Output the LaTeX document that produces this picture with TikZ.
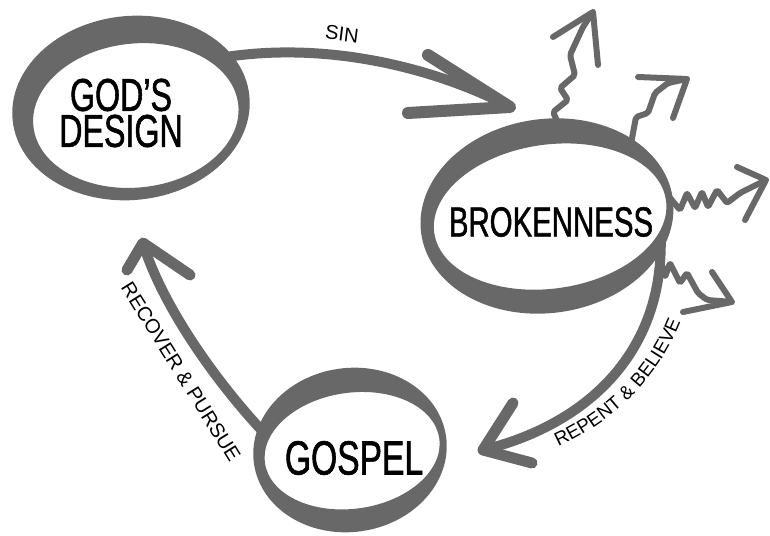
\documentclass[tikz,border=0pt]{standalone}
\usepackage{fontspec}
\setmainfont{Liberation Sans}
\newfontfamily\titlefont[FakeStretch=0.7, FakeBold=1.2]{Liberation Sans}
\usepackage{tikz}
\usetikzlibrary{%
  shapes.geometric,
  decorations.text,
}
\definecolor{ink}{HTML}{686868}

\begin{document}
\begin{tikzpicture}[x=1pt, y=1pt,
  ring/.style = {ellipse, inner sep = 0pt},
  stroke/.style = {draw = ink, line width = 10pt,
    line cap = round, line join = round},
  zig/.style = {draw = ink, line width = 6pt, line cap = round,
    line join = round, rounded corners = 2pt},
  title/.style = {font = \titlefont\fontsize{46}{36}\selectfont,
    align = center},
  tag/.style = {font = \fontsize{20}{20}\selectfont},
]
  \useasboundingbox (0,0) rectangle (770,535);

  % rings (nodes for the anchors, brush fill on top)
  \node[ring, minimum width = 221pt, minimum height = 165pt,
    rotate = 6] (gd) at (133,424) {};
  \node[ring, minimum width = 244pt, minimum height = 170pt,
    rotate = 8] (br) at (548,318) {};
  \node[ring, minimum width = 186pt, minimum height = 140pt,
    rotate = 8] (gs) at (351,84) {};

  \begin{scope}[rotate around = {6:(131,427)}]
    \fill[ink, even odd rule]
      (131,427) ellipse (119 and 92) (135,419) ellipse (103 and 72);
  \end{scope}
  \begin{scope}[rotate around = {8:(547,319)}]
    \fill[ink, even odd rule]
      (547,319) ellipse (127 and 97) (550,318) ellipse (117 and 72);
  \end{scope}
  \begin{scope}[rotate around = {8:(350,85)}]
    \fill[ink, even odd rule]
      (350,85) ellipse (97 and 82) (352,84) ellipse (88 and 58);
  \end{scope}

  \node[title] (gdtext) at (121,422) {GOD’S\\DESIGN};
  \node[title, font = \titlefont\fontsize{42}{42}\selectfont]
    (brtext) at (551,313) {BROKENNESS};
  \node[title, font = \titlefont\fontsize{48}{48}\selectfont]
    (gstext) at (354,77) {GOSPEL};

  % sin
  \draw[stroke] (gd.25)
    .. controls (330,495) and (440,465) .. (510,428) coordinate (sintip);
  \draw[stroke, line width = 12pt]
    (sintip) ++(-82,52) -- (sintip) -- ++(-102,-6);
  \node[tag, rotate = -7] (sin) at (342,501) {SIN};

  % repent & believe
  \draw[stroke] (br.340)
    .. controls (662,180) and (585,110) .. (483,85) coordinate (reptip);
  \draw[stroke, line width = 11pt]
    (reptip) ++(30,47) -- (reptip) -- ++(49,-13);
  \path[decorate, decoration = {text along path, text align = center,
    text = {|\fontsize{19}{19}\selectfont|REPENT {\&} BELIEVE}}]
    (544,82) .. controls (604,106) and (660,150) .. (686,228);

  % recover & pursue
  \draw[stroke] (gs.160)
    .. controls (210,160) and (160,235) .. (143,292) coordinate (rectip);
  \draw[stroke, line width = 11pt]
    (rectip) ++(-16,-27) -- (rectip) -- ++(47,-32);
  \node[tag, rotate = -58] (rp) at (181,163) {RECOVER \& PURSUE};

  % cracks
  \draw[zig] (br.73) -- (553,423) -- (568,435) -- (560,447)
    -- (575,460) -- (570,480) -- (583,508) -- (593,523) coordinate (z1);
  \draw[zig] (z1) ++(-40,-25) -- (z1) -- ++(5,-53);

  \draw[zig] (br.32) -- (636,418) -- (648,422) -- (655,442)
    -- (668,452) -- (687,456) coordinate (z2);
  \draw[zig] (z2) ++(-49,2) -- (z2) -- ++(-14,-39);

  \draw[zig] (br.2) -- (680,325) -- (687,342) -- (695,327) -- (702,343)
    -- (708,328) -- (717,345) -- (727,332) -- (740,342)
    -- (766,355) coordinate (z3);
  \draw[zig] (z3) ++(-29,13) -- (z3) -- ++(-21,-40);

  \draw[zig] (br.331) -- (660,278) -- (665,258) -- (670,272) -- (680,252)
    -- (687,262) -- (698,242) -- (707,235) -- (732,233) coordinate (z4);
  \draw[zig] (z4) ++(-20,30) -- (z4) -- ++(-49,-10);
\end{tikzpicture}
\end{document}
